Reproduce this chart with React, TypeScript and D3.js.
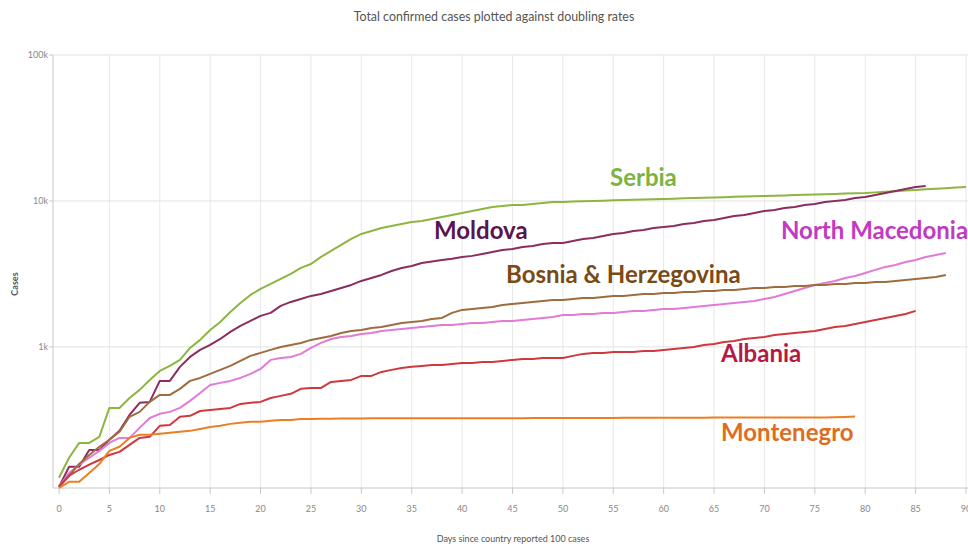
import React from 'react';
import * as d3 from 'd3';

// cases by day since the 100th case
const serbia = [
  127, 174, 220, 220, 242, 382, 382, 447, 508, 594,
  685, 741, 815, 984, 1117, 1307, 1483, 1736, 2001, 2271,
  2496, 2701, 2923, 3162, 3476, 3702, 4135, 4545, 4996, 5492,
  5943, 6231, 6533, 6743, 6959, 7183, 7296, 7529, 7771, 8020,
  8277, 8543, 8816, 9099, 9244, 9389, 9389, 9539, 9690, 9843,
  9843, 9900, 9950, 10000, 10050, 10100, 10150, 10200, 10240, 10280,
  10320, 10370, 10420, 10470, 10520, 10570, 10620, 10670, 10720, 10770,
  10820, 10870, 10920, 10970, 11020, 11070, 11120, 11180, 11240, 11290,
  11342, 11450, 11560, 11670, 11780, 11891, 12010, 12130, 12240, 12350,
  12467,
];
const moldova = [
  110, 151, 151, 197, 197, 231, 266, 342, 414, 420,
  585, 585, 730, 854, 954, 1032, 1134, 1267, 1393, 1507,
  1631, 1710, 1909, 2033, 2132, 2236, 2307, 2419, 2536, 2659,
  2832, 2969, 3113, 3315, 3476, 3587, 3761, 3847, 3943, 4016,
  4135, 4205, 4335, 4474, 4618, 4690, 4841, 4920, 5076, 5160,
  5160, 5321, 5492, 5580, 5757, 5943, 6040, 6231, 6332, 6533,
  6637, 6743, 6959, 7070, 7296, 7413, 7648, 7894, 8020, 8277,
  8543, 8680, 8957, 9099, 9389, 9539, 9843, 10000, 10159, 10484,
  10651, 10990, 11342, 11705, 12080, 12467, 12665,
];
const bosnia = [
  110, 131, 158, 182, 207, 231, 262, 332, 359, 420,
  469, 469, 516, 585, 613, 653, 696, 741, 802, 868,
  910, 954, 1000, 1032, 1065, 1117, 1152, 1189, 1247, 1287,
  1307, 1349, 1370, 1415, 1460, 1483, 1507, 1555, 1580, 1710,
  1793, 1821, 1850, 1879, 1940, 1970, 2001, 2033, 2065, 2099,
  2099, 2132, 2166, 2166, 2200, 2236, 2236, 2271, 2307, 2307,
  2344, 2344, 2381, 2381, 2419, 2419, 2458, 2458, 2496, 2536,
  2536, 2576, 2576, 2617, 2617, 2659, 2659, 2701, 2701, 2744,
  2744, 2788, 2788, 2832, 2878, 2923, 2969, 3016, 3113,
];
const northMacedonia = [
  110, 137, 156, 174, 194, 220, 238, 238, 279, 326,
  348, 359, 382, 427, 484, 549, 567, 585, 613, 653,
  707, 815, 841, 854, 896, 984, 1065, 1134, 1170, 1189,
  1228, 1247, 1287, 1307, 1328, 1349, 1370, 1393, 1415, 1415,
  1437, 1460, 1460, 1483, 1507, 1507, 1531, 1555, 1580, 1605,
  1656, 1656, 1682, 1682, 1710, 1710, 1736, 1765, 1765, 1793,
  1821, 1821, 1850, 1879, 1909, 1940, 1970, 2001, 2033, 2065,
  2132, 2200, 2307, 2419, 2536, 2659, 2744, 2832, 2969, 3065,
  3213, 3370, 3534, 3645, 3822, 3943, 4135, 4264, 4398,
];
const albania = [
  110, 131, 144, 156, 168, 182, 191, 213, 238, 242,
  288, 292, 332, 337, 364, 370, 376, 382, 407, 414,
  420, 447, 462, 477, 516, 524, 524, 576, 585, 594,
  633, 633, 674, 696, 718, 730, 741, 753, 753, 765,
  777, 777, 789, 789, 802, 815, 828, 828, 841, 841,
  841, 868, 896, 910, 910, 924, 924, 924, 939, 939,
  954, 969, 984, 1000, 1032, 1048, 1082, 1099, 1134, 1152,
  1170, 1208, 1228, 1247, 1267, 1287, 1328, 1370, 1393, 1437,
  1483, 1531, 1580, 1631, 1682, 1765,
];
const montenegro = [
  108, 119, 119, 137, 158, 194, 207, 238, 250, 250,
  254, 258, 262, 266, 274, 283, 288, 297, 302, 307,
  307, 312, 316, 316, 321, 321, 322, 322, 323, 323,
  323, 324, 324, 324, 324, 325, 325, 325, 325, 325,
  325, 325, 325, 325, 325, 325, 325, 326, 326, 326,
  326, 326, 326, 326, 326, 326, 327, 327, 327, 327,
  327, 327, 327, 327, 327, 328, 328, 328, 328, 328,
  328, 328, 328, 329, 329, 329, 329, 330, 331, 333,
];

const xTicks = d3.range(0, 91, 5);
const yTicks = [1000, 10000, 100000];

const series = [
  { name: 'Serbia', values: serbia, stroke: '#8db53f', label: '#7cb342', lx: 610, ly: 186 },
  { name: 'Moldova', values: moldova, stroke: '#8b2d5f', label: '#5a1450', lx: 434, ly: 239 },
  { name: 'North Macedonia', values: northMacedonia, stroke: '#e27ad6', label: '#c13ac3', lx: 781, ly: 239 },
  { name: 'Bosnia & Herzegovina', values: bosnia, stroke: '#9e6c3e', label: '#7a4a14', lx: 506, ly: 283 },
  { name: 'Albania', values: albania, stroke: '#d0383e', label: '#b51a44', lx: 721, ly: 362 },
  { name: 'Montenegro', values: montenegro, stroke: '#ec7f22', label: '#df6e1c', lx: 721, ly: 441 },
];

const W = 968;
const H = 546;
const axisX = 53;

export default function App() {
  const x = d3.scaleLinear().domain([0, 90]).range([59, 966]);
  const y = d3.scaleLog().domain([108, 100000]).range([488, 55]);
  const line = d3
    .line<number>()
    .x((_, i) => x(i))
    .y((d) => y(d));

  const fmt = (v: number) => (v >= 1000 ? v / 1000 + 'k' : String(v));

  return (
    <svg width={W} height={H} style={{ position: 'absolute', left: 0, top: 0, background: '#fff' }}>
      <text x={494} y={21} textAnchor="middle" fontFamily="Lato" fontSize={12.4} fill="#555">
        Total confirmed cases plotted against doubling rates
      </text>

      {/* grid */}
      {xTicks.slice(1).map((t) => (
        <line key={'gx' + t} x1={x(t)} x2={x(t)} y1={55} y2={488} stroke="#e8e8e8" />
      ))}
      {yTicks.map((t) => (
        <line key={'gy' + t} x1={axisX} x2={W} y1={y(t)} y2={y(t)} stroke="#e2e2e2" />
      ))}

      {/* axes */}
      <line x1={axisX} x2={axisX} y1={55} y2={488} stroke="#c8c8c8" />
      <line x1={axisX} x2={W} y1={488} y2={488} stroke="#c8c8c8" />
      {yTicks.map((t) => (
        <g key={'yt' + t}>
          <line x1={axisX - 4} x2={axisX} y1={y(t)} y2={y(t)} stroke="#c8c8c8" />
          <text x={axisX - 5} y={y(t) + 3} textAnchor="end" fontFamily="Lato" fontSize={9} fill="#888">
            {fmt(t)}
          </text>
        </g>
      ))}
      {xTicks.map((t) => (
        <g key={'xt' + t}>
          <line x1={x(t)} x2={x(t)} y1={488} y2={494} stroke="#c8c8c8" />
          <text x={x(t)} y={512} textAnchor="middle" fontFamily="Lato" fontSize={9} fill="#888">
            {t}
          </text>
        </g>
      ))}
      <text x={513} y={542} textAnchor="middle" fontFamily="Lato" fontSize={9} fill="#555">
        Days since country reported 100 cases
      </text>
      <text
        transform="translate(18,284) rotate(-90)"
        textAnchor="middle"
        fontFamily="Lato"
        fontWeight="bold"
        fontSize={9}
        fill="#555"
      >
        Cases
      </text>

      {/* lines */}
      {series.map((s) => (
        <path key={s.name} d={line(s.values) || ''} fill="none" stroke={s.stroke} strokeWidth={2} strokeLinejoin="round" />
      ))}

      {/* country labels */}
      {series.map((s) => (
        <text key={'l' + s.name} x={s.lx} y={s.ly} fontFamily="Lato" fontWeight="bold" fontSize={24} fill={s.label}>
          {s.name}
        </text>
      ))}
    </svg>
  );
}
